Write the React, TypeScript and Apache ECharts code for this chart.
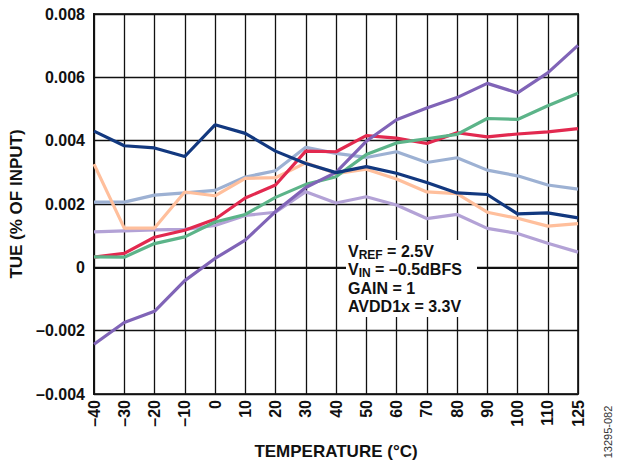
import React, { useEffect, useRef } from "react";
import * as echarts from "echarts";

const categories = ["–40", "–30", "–20", "–10", "0", "10", "20", "30", "40", "50", "60", "70", "80", "90", "100", "110", "125"];

// values in % of input (units of 0.001)
const navy = [4.30, 3.84, 3.77, 3.50, 4.50, 4.23, 3.67, 3.28, 2.99, 3.18, 2.97, 2.68, 2.35, 2.30, 1.69, 1.72, 1.56];
const lightBlue = [2.06, 2.06, 2.28, 2.35, 2.43, 2.85, 3.05, 3.79, 3.60, 3.47, 3.65, 3.31, 3.46, 3.07, 2.89, 2.60, 2.47];
const peach = [3.26, 1.24, 1.24, 2.38, 2.26, 2.81, 2.83, 3.30, 2.96, 3.10, 2.79, 2.38, 2.33, 1.74, 1.55, 1.30, 1.38];
const red = [0.32, 0.44, 0.95, 1.17, 1.52, 2.19, 2.60, 3.67, 3.65, 4.16, 4.08, 3.91, 4.25, 4.12, 4.21, 4.28, 4.38];
const green = [0.33, 0.32, 0.75, 0.96, 1.43, 1.67, 2.21, 2.62, 2.86, 3.56, 3.93, 4.06, 4.20, 4.70, 4.67, 5.10, 5.50];
const purple = [-2.43, -1.74, -1.39, -0.42, 0.28, 0.86, 1.76, 2.52, 3.00, 3.98, 4.66, 5.03, 5.36, 5.81, 5.51, 6.14, 7.01];
const lavender = [1.12, 1.15, 1.18, 1.20, 1.32, 1.64, 1.74, 2.39, 2.03, 2.23, 1.97, 1.54, 1.67, 1.23, 1.07, 0.76, 0.48];

const seriesList = [
  { name: "lavender", data: lavender, color: "#b3a2d6" },
  { name: "lightBlue", data: lightBlue, color: "#9db1d3" },
  { name: "peach", data: peach, color: "#ffbf9c" },
  { name: "red", data: red, color: "#e2294f" },
  { name: "green", data: green, color: "#5cb489" },
  { name: "purple", data: purple, color: "#8064b7" },
  { name: "navy", data: navy, color: "#12387f" },
];

const FONT = "'Liberation Sans', Arial, Helvetica, sans-serif";

export default function App() {
  const ref = useRef<HTMLDivElement>(null);
  useEffect(() => {
    document.body.style.margin = "0";
    const chart = echarts.init(ref.current!, null, { renderer: "svg" });
    chart.setOption({
      animation: false,
      backgroundColor: "#ffffff",
      grid: {
        left: 94,
        right: 40,
        top: 14,
        bottom: 65,
        show: true,
        borderColor: "#3a3a3a",
        borderWidth: 2,
        backgroundColor: "transparent",
      },
      xAxis: {
        type: "category",
        data: categories,
        boundaryGap: false,
        name: "TEMPERATURE (°C)",
        nameLocation: "middle",
        nameGap: 49,
        nameTextStyle: { fontFamily: FONT, fontWeight: "bold", fontSize: 17, color: "#111" },
        axisLine: { show: true, lineStyle: { color: "#111", width: 2 } },
        axisTick: { show: false },
        axisLabel: {
          rotate: 90,
          interval: 0,
          margin: 6,
          fontFamily: FONT,
          fontWeight: "bold",
          fontSize: 16,
          color: "#111",
        },
        splitLine: { show: true, lineStyle: { color: "#111", width: 1.3 } },
      },
      yAxis: {
        type: "value",
        min: -0.004,
        max: 0.008,
        interval: 0.002,
        name: "TUE (% OF INPUT)",
        nameLocation: "middle",
        nameGap: 67,
        nameTextStyle: { fontFamily: FONT, fontWeight: "bold", fontSize: 17, color: "#111" },
        axisLine: { show: true, lineStyle: { color: "#111", width: 2 } },
        axisTick: { show: false },
        axisLabel: {
          margin: 9,
          fontFamily: FONT,
          fontWeight: "bold",
          fontSize: 16,
          color: "#111",
          formatter: (v: number) => (Math.abs(v) < 1e-9 ? "0" : v.toFixed(3).replace("-", "–")),
        },
        splitLine: { show: true, lineStyle: { color: "#111", width: 1.3 } },
      },
      series: seriesList.map((s) => ({
        name: s.name,
        type: "line",
        data: s.data.map((v) => v / 1000),
        symbol: "none",
        lineStyle: { color: s.color, width: 3.2 },
        itemStyle: { color: s.color },
      })),
      graphic: [
        {
          type: "rect",
          z: 50,
          shape: { x: 346, y: 240, width: 131, height: 77 },
          style: { fill: "#ffffff" },
        },
        {
          type: "text",
          z: 51,
          x: 348,
          y: 242,
          style: {
            text:
              "{b|V}{sub|REF}{b| = 2.5V}\n{b|V}{sub|IN}{b| = –0.5dBFS}\n{b|GAIN = 1}\n{b|AVDD1x = 3.3V}",
            rich: {
              b: { fontFamily: FONT, fontWeight: "bold", fontSize: 16, lineHeight: 18.5, fill: "#111" },
              sub: {
                fontFamily: FONT,
                fontWeight: "bold",
                fontSize: 12,
                lineHeight: 18.5,
                verticalAlign: "bottom",
                padding: [7, 0, 0, 0],
                fill: "#111",
              },
            },
          },
        },
        {
          type: "text",
          x: 608,
          y: 432,
          rotation: Math.PI / 2,
          style: {
            text: "13295-082",
            fontFamily: FONT,
            fontSize: 11,
            fill: "#333",
            align: "center",
            verticalAlign: "middle",
          },
        },
      ],
    });
    return () => chart.dispose();
  }, []);
  return <div ref={ref} style={{ width: 618, height: 465 }} />;
}
